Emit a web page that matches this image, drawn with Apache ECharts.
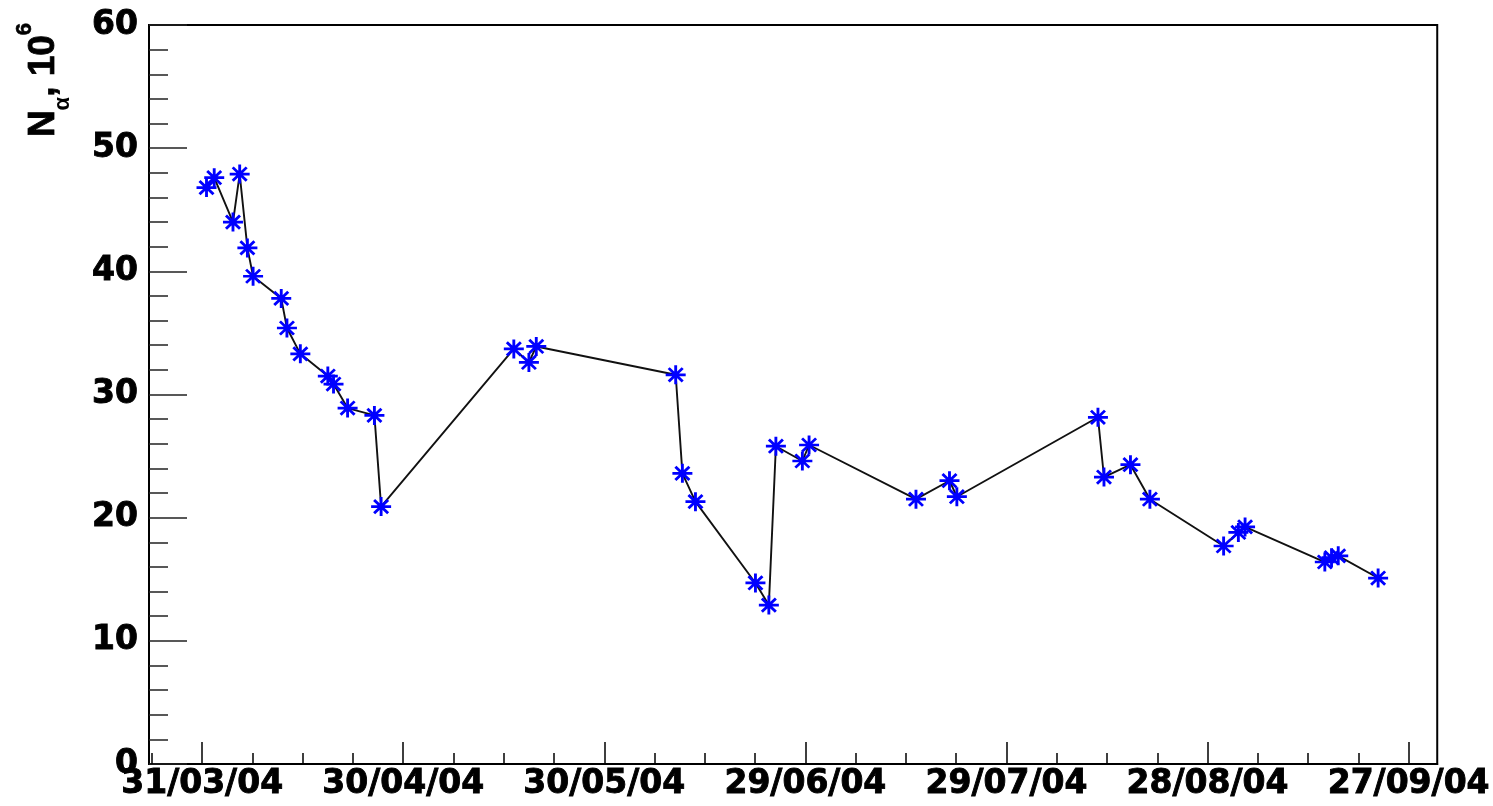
<!DOCTYPE html>
<html>
<head>
<meta charset="utf-8">
<script src="https://cdn.jsdelivr.net/npm/echarts@6/dist/echarts.min.js"></script>
<style>
html,body{margin:0;padding:0;background:#fff;}
#chart{width:1493px;height:806px;}
</style>
</head>
<body>
<div id="chart"></div>
<script>
// Days elapsed since 31/03/04 for each measurement
const days = [0.65, 1.8, 4.6, 5.6, 6.75, 7.6, 11.8, 12.65, 14.65, 18.75, 19.6, 21.7, 25.7, 26.7,
  46.5, 48.75, 49.85, 70.65, 71.65, 73.6, 82.55, 84.55, 85.6, 89.55, 90.55,
  106.5, 111.5, 112.6, 133.65, 134.55, 138.5, 141.4, 152.4, 154.6, 155.6,
  167.5, 168.5, 169.5, 175.45];
// N_alpha, in units of 10^6
const values = [46.8, 47.6, 44.0, 47.9, 41.9, 39.6, 37.8, 35.4, 33.3, 31.5, 30.85, 28.9, 28.3, 20.9,
  33.7, 32.6, 33.9, 31.6, 23.6, 21.3, 14.7, 12.9, 25.8, 24.6, 25.9,
  21.5, 23.0, 21.7, 28.15, 23.3, 24.3, 21.5, 17.7, 18.8, 19.25,
  16.4, 16.75, 16.9, 15.1];
// x tick labels (every 30 days starting at 31/03/04)
const tickLabels = ['31/03/04', '30/04/04', '30/05/04', '29/06/04', '29/07/04', '28/08/04', '27/09/04'];
const yTicks = [0, 10, 20, 30, 40, 50, 60];

const majorDays = tickLabels.map((_, i) => i * 30);
const minorDays = [];
for (let d = -7.5; d < 184; d += 7.5) {
  if (Math.abs(d / 30 - Math.round(d / 30)) > 1e-6) minorDays.push(d);
}
const xMin = -7.93, xMax = 184.27;

const labelFont = {fontFamily: 'DejaVu Sans', fontWeight: 'bold', fontSize: 33, color: '#000',
  textBorderColor: '#000', textBorderWidth: 0.9};
const asterisk = 'path://M0,10L20,10M10,0L10,20M3,3L17,17M17,3L3,17';

const chart = echarts.init(document.getElementById('chart'), null, {renderer: 'canvas'});
chart.setOption({
  animation: false,
  backgroundColor: '#fff',
  grid: {left: 149, right: 52, top: 25, bottom: 42, show: true, borderColor: '#000', borderWidth: 2, backgroundColor: 'transparent'},
  xAxis: [{
    type: 'value', min: xMin, max: xMax,
    axisLine: {show: true, onZero: false, lineStyle: {color: '#000', width: 2}},
    axisTick: {show: true, inside: true, length: 22, customValues: majorDays, lineStyle: {color: '#000', width: 1.5}},
    axisLabel: Object.assign({show: true, margin: 4, customValues: majorDays,
      formatter: v => tickLabels[Math.round(v / 30)] || ''}, labelFont),
    splitLine: {show: false}
  }, {
    type: 'value', min: xMin, max: xMax, position: 'bottom',
    axisLine: {show: false, onZero: false},
    axisTick: {show: true, inside: true, length: 11, customValues: minorDays, lineStyle: {color: '#000', width: 1.5}},
    axisLabel: {show: false},
    splitLine: {show: false}
  }],
  yAxis: {
    type: 'value', min: yTicks[0], max: yTicks[yTicks.length - 1], interval: 10,
    axisLine: {show: true, onZero: false, lineStyle: {color: '#000', width: 2}},
    axisTick: {show: true, inside: true, length: 38, lineStyle: {color: '#222', width: 1.5}},
    minorTick: {show: true, splitNumber: 5, length: 19, lineStyle: {color: '#222', width: 1.5}},
    axisLabel: Object.assign({margin: 11}, labelFont),
    splitLine: {show: false}
  },
  graphic: [{
    type: 'text', x: 44, y: 80, rotation: Math.PI / 2,
    style: {
      text: '{n|N}{a|α}{n|, 10}{s|6}',
      align: 'center', verticalAlign: 'middle',
      rich: {
        n: {fontFamily: 'Liberation Sans', fontWeight: 'bold', fontSize: 37, lineHeight: 60, fill: '#000', verticalAlign: 'middle', stroke: '#000', lineWidth: 0.8},
        a: {fontFamily: 'Liberation Sans', fontWeight: 'bold', fontSize: 22, lineHeight: 40, fill: '#000', verticalAlign: 'bottom'},
        s: {fontFamily: 'Liberation Sans', fontWeight: 'bold', fontSize: 22, lineHeight: 22, fill: '#000', verticalAlign: 'top', stroke: '#000', lineWidth: 0.6}
      }
    }
  }],
  series: [{
    type: 'line', xAxisIndex: 0, yAxisIndex: 0,
    data: days.map((d, i) => [d, values[i]]),
    symbol: asterisk, symbolSize: [20, 19],
    showAllSymbol: true,
    lineStyle: {color: '#111', width: 1.9},
    itemStyle: {color: '#0000ff', borderColor: '#0000ff', borderWidth: 2.8},
    z: 3
  }]
});
</script>
</body>
</html>
